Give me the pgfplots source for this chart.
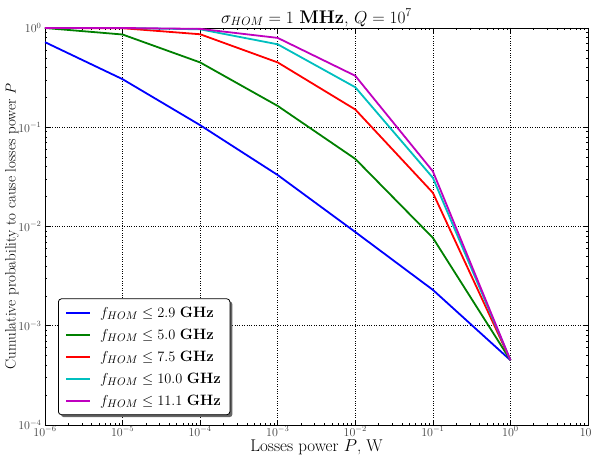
\documentclass[border=0pt]{standalone}
\usepackage{pgfplots}
\pgfplotsset{compat=1.18}
\usetikzlibrary{shadows,calc}
\definecolor{mplblue}{rgb}{0,0,1}
\definecolor{mplgreen}{rgb}{0,0.5,0}
\definecolor{mplred}{rgb}{1,0,0}
\definecolor{mplcyan}{rgb}{0,0.75,0.75}
\definecolor{mplmag}{rgb}{0.75,0,0.75}
\makeatletter
\tikzset{noshadow/.code={\let\tikz@preactions\pgfutil@empty}}
\makeatother

\begin{document}
\begin{tikzpicture}
\begin{loglogaxis}[
  name=ax,
  scale only axis,
  width=543pt, height=397pt,
  xmin=1e-6, xmax=1e1,
  ymin=1e-4, ymax=1,
  xtick={1e-6,1e-5,1e-4,1e-3,1e-2,1e-1,1e0,1e1},
  ytick={1e-4,1e-3,1e-2,1e-1,1e0},
  tick label style={font=\fontsize{12}{14}\selectfont, text=black!75},
  xticklabel style={yshift=2pt},
  every axis x label/.style={font=\fontsize{17}{19}\selectfont,
    at={(axis description cs:0.5,0)}, anchor=base, yshift=-26pt},
  ylabel style={font=\fontsize{15}{17}\selectfont,
    at={(axis description cs:-0.0608,0.5)}, anchor=center},
  every axis title/.style={font=\fontsize{18.3}{20}\selectfont,
    at={(axis description cs:0.5,1)}, anchor=base, yshift=5pt},
  title={$\sigma_{HOM} = 1$ \textbf{MHz}, $Q = 10^7$},
  xlabel={Losses power $P$, W},
  ylabel={Cumulative probability to cause losses power $P$},
  grid=major,
  major grid style={dotted, black, line width=0.6pt},
  axis line style={line width=0.8pt},
  major tick length=5pt,
  minor tick length=2.5pt,
  tick style={black, line width=0.6pt},
  legend cell align=left,
  legend style={
    at={(0.024,0.025)}, anchor=south west,
    font=\fontsize{15}{17}\selectfont,
    rounded corners=3pt,
    draw=black, line width=0.8pt,
    fill=white,
    drop shadow={shadow xshift=2.5pt, shadow yshift=-2.5pt, fill=black!60, opacity=1},
    nodes={noshadow},
    row sep=6pt,
    column sep=7pt,
    inner xsep=7pt, inner ysep=6pt,
  },
  legend image code/.code={\draw[#1, noshadow] (0pt,0pt) -- (24pt,0pt);},
  every axis plot/.append style={line width=1.8pt},
]
\addplot[mplblue] coordinates {
  (1e-6,0.72) (1e-5,0.305) (1e-4,0.105) (1e-3,0.033) (1e-2,0.0088) (1e-1,0.0023) (1e0,0.00045)
};
\addplot[mplgreen] coordinates {
  (1e-6,1.0) (1e-5,0.86) (1e-4,0.45) (1e-3,0.164) (1e-2,0.048) (1e-1,0.0077) (1e0,0.00045)
};
\addplot[mplred] coordinates {
  (1e-6,1.0) (1e-5,0.995) (1e-4,0.865) (1e-3,0.45) (1e-2,0.151) (1e-1,0.0219) (1e0,0.00045)
};
\addplot[mplcyan] coordinates {
  (1e-6,1.0) (1e-5,1.0) (1e-4,0.97) (1e-3,0.685) (1e-2,0.253) (1e-1,0.031) (1e0,0.00045)
};
\addplot[mplmag] coordinates {
  (1e-6,1.0) (1e-5,1.0) (1e-4,0.98) (1e-3,0.795) (1e-2,0.33) (1e-1,0.036) (1e0,0.00045)
};
\legend{
  {$f_{HOM} \leq 2.9$ \textbf{GHz}},
  {$f_{HOM} \leq 5.0$ \textbf{GHz}},
  {$f_{HOM} \leq 7.5$ \textbf{GHz}},
  {$f_{HOM} \leq 10.0$ \textbf{GHz}},
  {$f_{HOM} \leq 11.1$ \textbf{GHz}}
}
\end{loglogaxis}
\pgfresetboundingbox
\path ($(ax.south west)+(-45pt,-33pt)$) rectangle ($(ax.north east)+(3pt,28pt)$);
\end{tikzpicture}
\end{document}
